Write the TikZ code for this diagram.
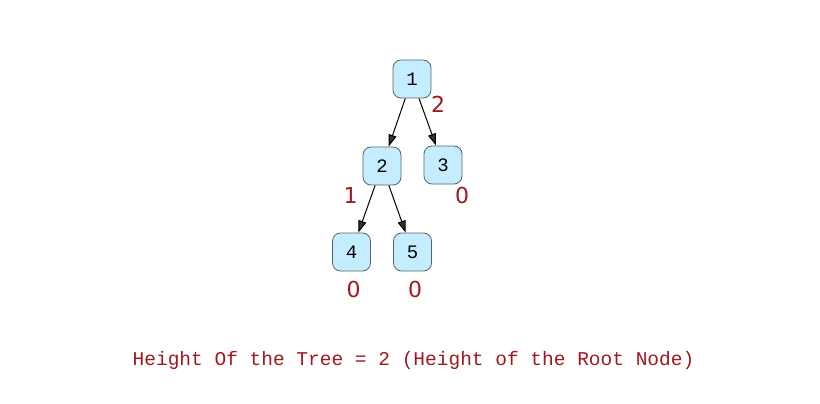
\documentclass[tikz,border=0pt]{standalone}
\usepackage{fontspec}
\setmainfont{DejaVu Sans}
\setmonofont{Liberation Mono}
\usetikzlibrary{arrows.meta}
\definecolor{nodeblue}{RGB}{196,238,255}
\definecolor{nodeborder}{RGB}{90,98,102}
\definecolor{heightred}{RGB}{160,24,32}
\begin{document}
\begin{tikzpicture} [
            x=1pt, y=-1pt,
            vertex/.style={rectangle,rounded corners=8pt,draw=nodeborder,line width=0.8pt,fill=nodeblue,
                minimum size=38pt,inner sep=0pt,font=\fontsize{19}{19}\ttfamily},
            height/.style={text=heightred,inner sep=0pt,font=\fontsize{22}{22}\selectfont},
            edge/.style = {draw,line width=1pt,-{Triangle[length=12pt,width=8pt,fill=black!80]}},
        ]
        \useasboundingbox (0,0) rectangle (820,404);
        % First we draw the vertices
        \foreach \pos/\name/\label in {
                {(412,79)/a/1},
                {(382,166)/b/2},
                {(443,165)/c/3},
                {(351.5,252)/d/4},
                {(412.5,252)/e/5}}
            \node[vertex] (\name) at \pos {\label};
        % Heights of the vertices
        \foreach \pos/\name/\label in {
                {(438,104)/ha/2},
                {(350.5,195)/hb/1},
                {(462,195)/hc/0},
                {(353.5,289)/hd/0},
                {(415,289)/he/0}}
            \node[height] (\name) at \pos {\label};
        % Connect vertices with edges
        \foreach \source/ \dest in {a/b,a/c,b/d,b/e}
            \path[edge] (\source) -- (\dest);
        \node[text=heightred,font=\fontsize{19.5}{19.5}\ttfamily] (caption) at (413.5,360)
            {Height Of the Tree = 2 (Height of the Root Node)};
    \end{tikzpicture}
\end{document}
